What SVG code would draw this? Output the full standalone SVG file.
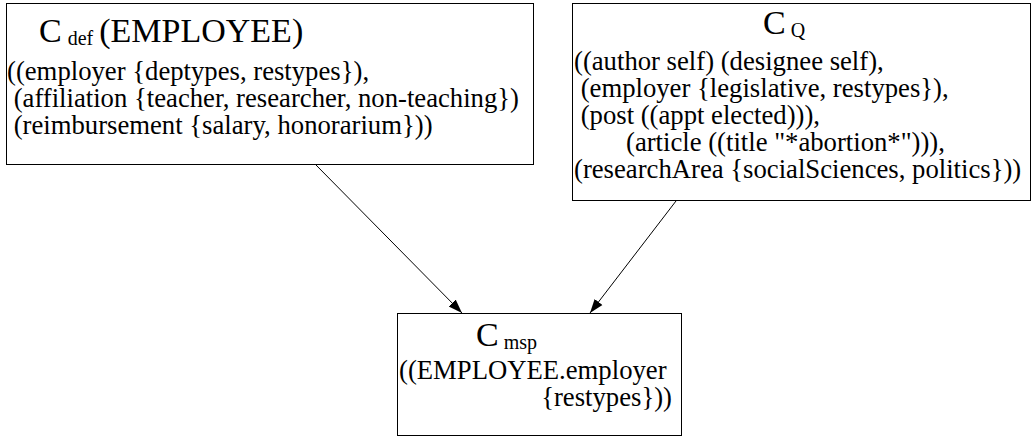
<svg xmlns="http://www.w3.org/2000/svg" width="1032" height="438" viewBox="0 0 1032 438">
<style>
.box{fill:#fff;stroke:#000;stroke-width:1}
text{font-family:'Liberation Serif','Times New Roman',serif;font-size:26.7px;fill:#000}
.big{font-size:34px}
.sub{font-size:20px}
.edge{stroke:#000;stroke-width:1;fill:none;marker-end:url(#ah)}
</style>
<defs>
<marker id="ah" viewBox="0 0 10 10" refX="10" refY="5" markerWidth="14" markerHeight="14" markerUnits="userSpaceOnUse" orient="auto">
<path d="M0,1.5 L10,5 L0,8.5 z" fill="#000"/>
</marker>
</defs>
<rect width="1032" height="438" fill="#fff"/>
<g id="connectors">
<line class="edge" x1="316" y1="165" x2="462" y2="313"/>
<line class="edge" x1="676" y1="201" x2="590" y2="313"/>
</g>
<g id="cdef">
<rect class="box" x="6.5" y="3.5" width="527" height="161"/>
<text x="39" y="42"><tspan class="big">C</tspan><tspan class="sub" dx="6" dy="3">def</tspan><tspan class="big" dx="6" dy="-3">(EMPLOYEE)</tspan></text>
<text x="7" y="80">((employer {deptypes, restypes}),</text>
<text x="7" y="107" xml:space="preserve"> (affiliation {teacher, researcher, non-teaching})</text>
<text x="7" y="134" xml:space="preserve"> (reimbursement {salary, honorarium}))</text>
</g>
<g id="cq">
<rect class="box" x="572.5" y="3.5" width="458" height="197"/>
<text x="763" y="34"><tspan class="big">C</tspan><tspan class="sub" dx="5" dy="3">Q</tspan></text>
<text x="574" y="70">((author self) (designee self),</text>
<text x="574" y="97" xml:space="preserve"> (employer {legislative, restypes}),</text>
<text x="574" y="124" xml:space="preserve"> (post ((appt elected))),</text>
<text x="626" y="151">(article ((title "*abortion*"))),</text>
<text x="574" y="178">(researchArea {socialSciences, politics}))</text>
</g>
<g id="cmsp">
<rect class="box" x="397.5" y="313.5" width="284" height="122"/>
<text x="476" y="346"><tspan class="big">C</tspan><tspan class="sub" dx="5" dy="3">msp</tspan></text>
<text x="399" y="379">((EMPLOYEE.employer</text>
<text x="672" y="406" text-anchor="end">{restypes}))</text>
</g>
</svg>
